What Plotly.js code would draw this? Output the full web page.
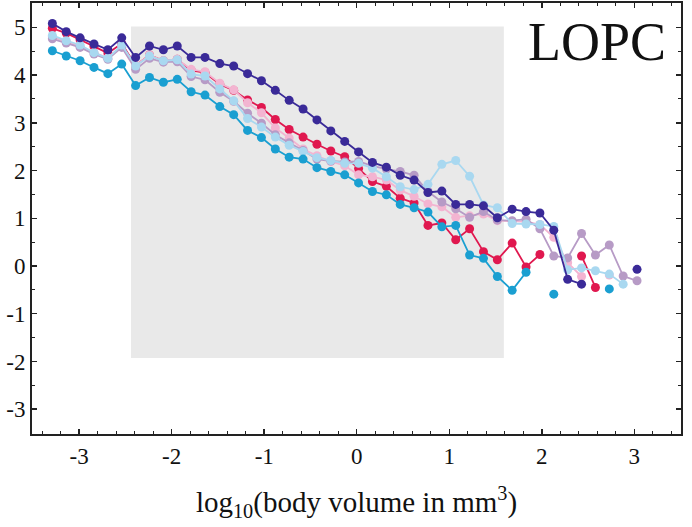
<!DOCTYPE html>
<html>
<head>
<meta charset="utf-8">
<script src="https://cdn.plot.ly/plotly-3.0.1.min.js"></script>
<style>html,body{margin:0;padding:0;background:#fff;}#chart{width:692px;height:527px;}</style>
</head>
<body>
<div id="chart"></div>
<script>
// log10 body volume bin centres
var xBins = [-3.29, -3.14, -2.99, -2.84, -2.69, -2.54, -2.39, -2.24, -2.09, -1.94,
             -1.79, -1.64, -1.48, -1.33, -1.18, -1.03, -0.88, -0.73, -0.58, -0.43,
             -0.28, -0.13, 0.02, 0.17, 0.32, 0.47, 0.62, 0.77, 0.92, 1.07,
             1.22, 1.37, 1.52, 1.68, 1.83, 1.98, 2.13, 2.28, 2.43, 2.58,
             2.73, 2.88, 3.03];

var seriesNames = ["S1", "S2", "S3", "S4", "S5", "S6"];

var darkBlue = [5.08, 4.91, 4.78, 4.65, 4.53, 4.78, 4.37, 4.61, 4.53, 4.61,
                4.37, 4.37, 4.24, 4.19, 4.03, 3.88, 3.68, 3.47, 3.29, 3.06,
                2.83, 2.61, 2.39, 2.17, 2.07, 1.90, 1.80, 1.54, 1.57, 1.29,
                1.29, 1.26, 1.01, 1.19, 1.14, 1.11, 0.75, -0.28, -0.38, null,
                null, null, -0.07];

var crimson = [4.98, 4.88, 4.74, 4.60, 4.46, 4.66, 4.20, 4.42, 4.30, 4.33,
               4.10, 4.05, 3.81, 3.68, 3.48, 3.32, 3.07, 2.86, 2.70, 2.55,
               2.41, 2.29, 2.04, 1.77, 1.67, 1.42, 1.32, 0.85, 0.90, 0.55,
               0.78, 0.30, 0.13, 0.48, -0.02, 0.24, null, null, 0.21, -0.45,
               null, null, null];

var pink = [4.80, 4.70, 4.60, 4.47, 4.36, 4.62, 4.20, 4.42, 4.30, 4.33,
            4.12, 4.07, 3.83, 3.69, 3.42, 3.21, 2.89, 2.68, 2.45, 2.31,
            2.19, 2.10, 1.91, 1.87, 1.80, 1.59, 1.46, 1.30, 1.24, 1.02,
            1.05, 1.09, 0.95, 0.94, 0.93, 0.87, 0.60, 0.07, -0.22, null,
            -0.19, null, null];

var mauve = [4.76, 4.67, 4.58, 4.44, 4.33, 4.58, 4.12, 4.35, 4.27, 4.28,
             3.97, 3.90, 3.64, 3.45, 3.20, 2.99, 2.75, 2.58, 2.42, 2.24,
             2.20, 2.18, 2.19, 2.10, 2.03, 1.98, 1.90, 1.56, 1.34, 1.20,
             1.02, 1.14, 0.96, 0.95, 0.98, 0.78, 0.21, 0.17, 0.68, 0.23,
             0.44, -0.21, -0.31];

var lightBlue = [4.83, 4.72, 4.63, 4.47, 4.35, 4.63, 4.19, 4.40, 4.30, 4.32,
                 4.02, 3.98, 3.71, 3.46, 3.09, 2.91, 2.70, 2.53, 2.40, 2.27,
                 2.21, 2.15, 2.15, 2.05, 1.87, 1.66, 1.60, 1.71, 2.13, 2.21,
                 1.88, 1.28, 1.22, 0.89, 0.88, 0.87, 0.83, -0.08, -0.04, -0.10,
                 -0.17, -0.38, null];

var cyan = [4.51, 4.40, 4.30, 4.16, 4.03, 4.23, 3.78, 3.95, 3.85, 3.91,
            3.65, 3.58, 3.34, 3.17, 2.84, 2.69, 2.45, 2.28, 2.24, 2.06,
            1.98, 1.91, 1.74, 1.56, 1.49, 1.29, 1.22, 1.13, 0.82, 0.85,
            0.23, 0.16, -0.22, -0.51, -0.13, null, -0.59, null, null, null,
            -0.48, null, null];

var xTickVals = [-3, -2, -1, 0, 1, 2, 3];
var xTickText = ["-3", "-2", "-1", "0", "1", "2", "3"];
var yTickVals = [-3, -2, -1, 0, 1, 2, 3, 4, 5];
var yTickText = ["-3", "-2", "-1", "0", "1", "2", "3", "4", "5"];
var shadeX = [-2.44, 1.59];
var shadeY = [-1.93, 5.02];

// drawing order: bottom first
var seriesData = [crimson, pink, mauve, lightBlue, darkBlue, cyan];
var seriesColors = ["#e0184f", "#f3b4d1", "#b79bc6", "#a9d8f0", "#3a2a98", "#1a9fd1"];

var traces = seriesData.map(function (ys, k) {
  return {
    x: xBins, y: ys, type: "scatter", mode: "lines+markers",
    name: seriesNames[k],
    connectgaps: false,
    line: {color: seriesColors[k], width: 1.8},
    marker: {color: seriesColors[k], size: 9}
  };
});

var font = "'Liberation Serif', 'DejaVu Serif', serif";

var layout = {
  width: 692, height: 527,
  margin: {l: 32, r: 11, t: 3, b: 93},
  paper_bgcolor: "#ffffff", plot_bgcolor: "#ffffff",
  showlegend: false,
  font: {family: font, color: "#111", size: 21},
  xaxis: {
    range: [-3.51, 3.505], tickmode: "array", tickvals: xTickVals, ticktext: xTickText,
    ticks: "inside", ticklen: 5, tickcolor: "#222", tickwidth: 1.5,
    showline: true, linecolor: "#222", linewidth: 2, mirror: "allticks",
    showgrid: false, zeroline: false,
    minor: {dtick: 0.2, ticks: "inside", ticklen: 3, tickcolor: "#222", tickwidth: 1},
    tickfont: {family: font, size: 23, color: "#111"},
    title: {text: "log<sub>10</sub>(body volume in mm<sup>3</sup>)", font: {family: font, size: 29, color: "#111"}, standoff: 24}
  },
  yaxis: {
    range: [-3.52, 5.51], tickmode: "array", tickvals: yTickVals, ticktext: yTickText,
    ticks: "inside", ticklen: 5, tickcolor: "#222", tickwidth: 1.5,
    showline: true, linecolor: "#222", linewidth: 2, mirror: "allticks",
    showgrid: false, zeroline: false,
    minor: {dtick: 0.5, ticks: "inside", ticklen: 3, tickcolor: "#222", tickwidth: 1},
    tickfont: {family: font, size: 23, color: "#111"},
    ticklabelstandoff: 0
  },
  shapes: [{
    type: "rect", xref: "x", yref: "y", layer: "below",
    x0: shadeX[0], x1: shadeX[1], y0: shadeY[0], y1: shadeY[1],
    fillcolor: "#e9e9e9", line: {width: 0}
  }],
  annotations: [{
    text: "LOPC", xref: "paper", yref: "paper", x: 0.871, y: 0.909,
    xanchor: "center", yanchor: "middle", showarrow: false,
    font: {family: font, size: 54, color: "#111"}
  }]
};

Plotly.newPlot("chart", traces, layout, {displayModeBar: false, staticPlot: true});
</script>
</body>
</html>
